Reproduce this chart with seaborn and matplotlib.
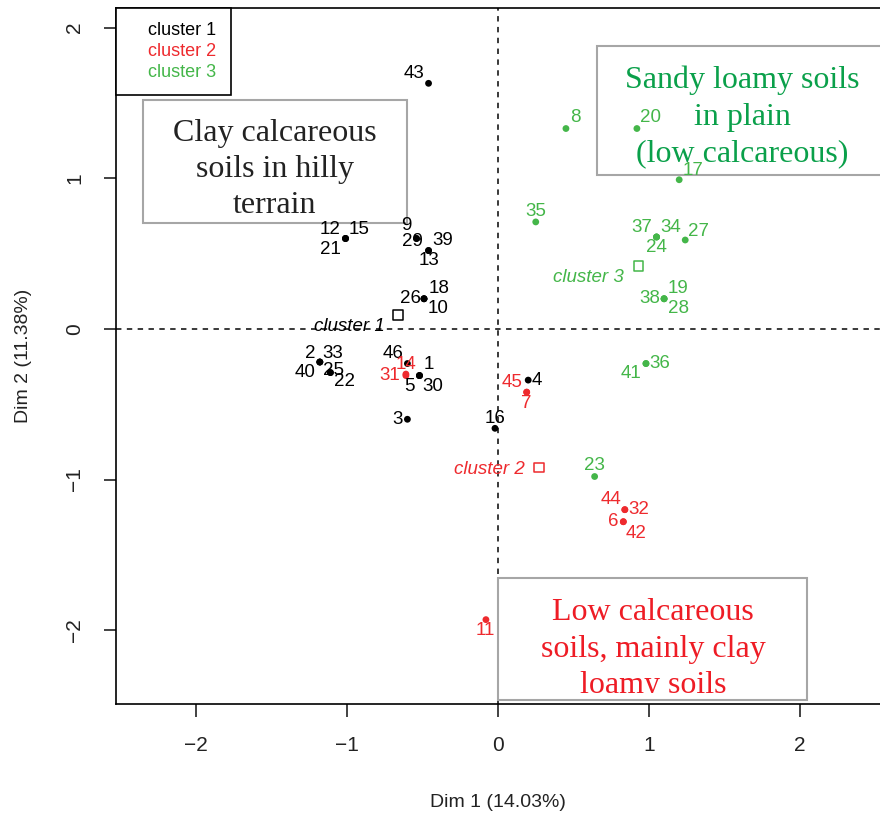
import matplotlib
matplotlib.use('Agg')
import pandas as pd
import matplotlib.pyplot as plt
import seaborn as sns
from matplotlib.lines import Line2D
from matplotlib.patches import Rectangle

# individuals on the factor map (Dim 1, Dim 2)
ids_c1 = ['43', '12', '15', '21', '9', '29', '39', '13', '26', '18', '10', '2', '33', '40',
          '25', '22', '46', '1', '5', '30', '3', '16', '4']
dim1_c1 = [-0.46, -1.01, -1.01, -1.01, -0.54, -0.54, -0.46, -0.46, -0.49, -0.49, -0.49, -1.18, -1.18, -1.18,
           -1.11, -1.11, -0.60, -0.52, -0.52, -0.52, -0.60, -0.02, 0.20]
dim2_c1 = [1.63, 0.60, 0.60, 0.60, 0.60, 0.60, 0.52, 0.52, 0.20, 0.20, 0.20, -0.22, -0.22, -0.22,
           -0.29, -0.29, -0.23, -0.31, -0.31, -0.31, -0.60, -0.66, -0.34]

ids_c2 = ['14', '31', '45', '7', '44', '32', '6', '42', '11']
dim1_c2 = [-0.61, -0.61, 0.19, 0.19, 0.84, 0.84, 0.83, 0.83, -0.08]
dim2_c2 = [-0.30, -0.31, -0.42, -0.42, -1.20, -1.20, -1.28, -1.28, -1.93]

ids_c3 = ['8', '20', '17', '35', '37', '34', '24', '27', '38', '19', '28', '36', '41', '23']
dim1_c3 = [0.45, 0.92, 1.20, 0.25, 1.05, 1.05, 1.05, 1.24, 1.10, 1.10, 1.10, 0.98, 0.98, 0.64]
dim2_c3 = [1.33, 1.33, 0.99, 0.71, 0.61, 0.61, 0.61, 0.59, 0.20, 0.20, 0.20, -0.23, -0.23, -0.98]

# cluster centres
center_names = ['cluster 1', 'cluster 2', 'cluster 3']
center_dim1 = [-0.66, 0.27, 0.93]
center_dim2 = [0.09, -0.92, 0.42]

# label offsets (pixels, right / down) as placed by the plotting routine
label_offset = {
    '43': (-15, -10), '12': (-15, -9), '15': (14, -9), '21': (-15, 11), '9': (-10, -13),
    '29': (-4, 3), '39': (14, -10), '13': (0, 10), '26': (-14, 0), '18': (15, -10),
    '10': (14, 10), '2': (-10, -9), '33': (13, -9), '40': (-15, 10), '25': (3, -2),
    '22': (14, 9), '46': (-14, -10), '1': (9, -11), '5': (-10, 11), '30': (13, 11),
    '3': (-10, 0), '16': (0, -10), '4': (9, 0),
    '14': (0, -10), '31': (-16, 0), '45': (-15, -10), '7': (0, 11), '44': (-14, -10),
    '32': (14, 0), '6': (-10, 0), '42': (13, 12), '11': (-1, 11),
    '8': (9, -11), '20': (14, -11), '17': (14, -9), '35': (0, -10), '37': (-15, -9),
    '34': (14, -9), '24': (0, 11), '27': (13, -9), '38': (-14, 0), '19': (14, -10),
    '28': (14, 10), '36': (14, 0), '41': (-15, 10), '23': (0, -11),
}
center_offset = [(-14, 11), (-14, 2), (-15, 12)]

palette = {'cluster 1': 'black', 'cluster 2': '#ee2a2e', 'cluster 3': '#44b649'}

df = pd.concat([
    pd.DataFrame({'id': ids_c1, 'dim1': dim1_c1, 'dim2': dim2_c1, 'cluster': 'cluster 1'}),
    pd.DataFrame({'id': ids_c2, 'dim1': dim1_c2, 'dim2': dim2_c2, 'cluster': 'cluster 2'}),
    pd.DataFrame({'id': ids_c3, 'dim1': dim1_c3, 'dim2': dim2_c3, 'cluster': 'cluster 3'}),
], ignore_index=True)
centers = pd.DataFrame({'cluster': center_names, 'dim1': center_dim1, 'dim2': center_dim2})

sns.set_style('ticks')
plt.rcParams['font.family'] = ['Liberation Sans', 'DejaVu Sans']

fig = plt.figure(figsize=(8.8, 8.14), dpi=100)
ax = fig.add_axes([116 / 880, 1 - 704 / 814, (880 - 116) / 880, (704 - 8) / 814])

ax.axhline(0, color='#2a2a2a', lw=1.3, ls=(0, (3, 3)), zorder=1)
ax.axvline(0, color='#2a2a2a', lw=1.3, ls=(0, (3, 3)), zorder=1)

sns.scatterplot(data=df, x='dim1', y='dim2', hue='cluster', palette=palette,
                s=24, linewidth=0, legend=False, ax=ax, zorder=3)
sns.scatterplot(data=centers, x='dim1', y='dim2', hue='cluster', palette=palette,
                marker='s', s=50, linewidth=1.1, legend=False, ax=ax, zorder=3)
sq = ax.collections[-1]
sq.set_edgecolors(sq.get_facecolors())
sq.set_facecolors('none')

for _, r in df.iterrows():
    dx, dy = label_offset[r['id']]
    ax.annotate(r['id'], (r['dim1'], r['dim2']), xytext=(dx * 0.72, -dy * 0.72),
                textcoords='offset points', ha='center', va='center',
                fontsize=13.5, color=palette[r['cluster']], zorder=4)
for (_, r), (dx, dy) in zip(centers.iterrows(), center_offset):
    ax.annotate(r['cluster'], (r['dim1'], r['dim2']), xytext=(dx * 0.72, -dy * 0.72),
                textcoords='offset points', ha='right', va='center', style='italic',
                fontsize=13.5, color=palette[r['cluster']], zorder=4)

# interpretation boxes: (corner, width, height, text, text centre, colour, clip bottom)
boxes = [
    ((-2.353, 0.702), 1.748, 0.819, 'Clay calcareous\nsoils in hilly\nterrain', (-1.479, 1.058), '#222222', 0.702),
    ((0.656, 1.023), 2.2, 0.852, 'Sandy loamy soils\nin plain\n(low calcareous)', (1.616, 1.408), '#0aa04a', 1.023),
    ((0.002, -2.464), 2.042, 0.809, 'Low calcareous\nsoils, mainly clay\nloamy soils', (1.026, -2.125), '#ee1c25', -2.415),
]
for xy, w, h, txt, txy, col, clip_y in boxes:
    rect = Rectangle(xy, w, h, fill=True, facecolor='white', edgecolor='#a6a6a6', lw=1.5, zorder=2)
    ax.add_patch(rect)
    clip = Rectangle((xy[0], clip_y), w, xy[1] + h - clip_y, transform=ax.transData)
    t = ax.text(*txy, txt, ha='center', va='center', multialignment='center',
                family=['Liberation Serif', 'DejaVu Serif'], fontsize=23, color=col,
                linespacing=1.34, zorder=2.5)
    t.set_clip_path(clip)
    t.set_clip_on(True)

ax.set_xlim(-2.53, 2.53)
ax.set_ylim(-2.49, 2.13)
ax.set_xticks([-2, -1, 0, 1, 2])
ax.set_yticks([-2, -1, 0, 1, 2])
ax.tick_params(direction='out', length=9, width=1.2, labelsize=15, pad=14, colors='#222222')
for lab in ax.get_yticklabels():
    lab.set_rotation(90)
    lab.set_va('center')
for side in ['left', 'bottom', 'top']:
    ax.spines[side].set_color('black')
    ax.spines[side].set_linewidth(1.2)
ax.spines['right'].set_visible(False)
ax.set_xlabel('Dim 1 (14.03%)', fontsize=14, labelpad=28, color='#222222')
ax.set_ylabel('Dim 2 (11.38%)', fontsize=14, labelpad=24, color='#222222')

handles = [Line2D([], [], linestyle='none') for _ in center_names]
leg = ax.legend(handles, center_names, loc='upper left', bbox_to_anchor=(0, 1), borderaxespad=0,
                fancybox=False, framealpha=1, edgecolor='black', fontsize=13,
                labelcolor=[palette[c] for c in center_names], handlelength=0.6,
                handletextpad=0.4, borderpad=0.8, labelspacing=0.2)
leg.get_frame().set_linewidth(1.2)
leg.set_zorder(5)

fig.savefig('out.png', dpi=100)
